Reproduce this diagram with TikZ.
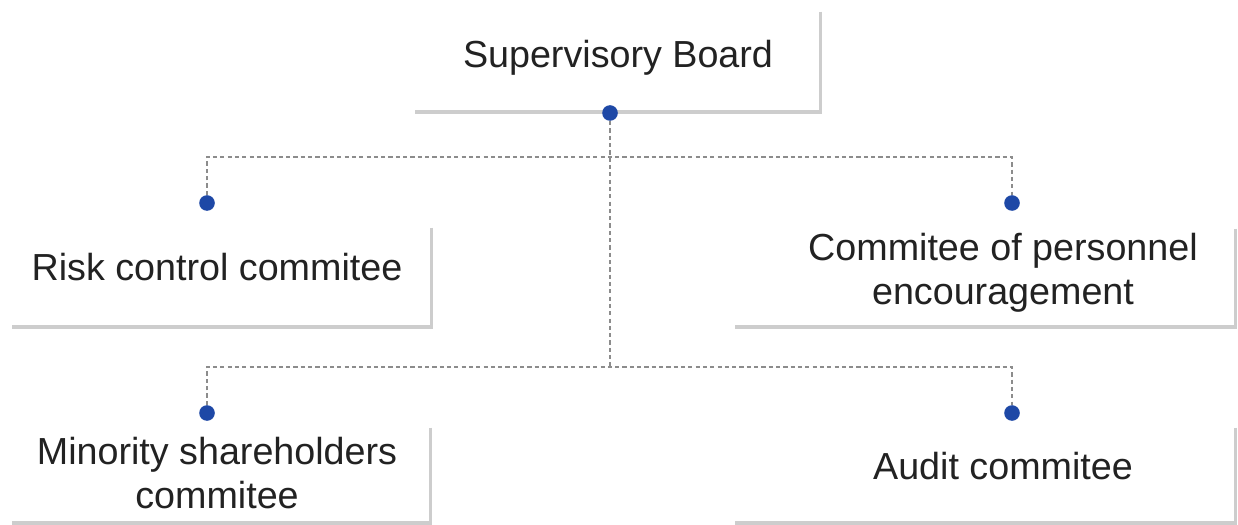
\documentclass[tikz,border=0pt]{standalone}
\usepackage{fontspec}
\setmainfont{Liberation Sans}
\usetikzlibrary{positioning}

\definecolor{dotblue}{HTML}{1E48A6}
\definecolor{shadegray}{HTML}{CDCDCD}
\definecolor{linkgray}{HTML}{8C8C8C}
\definecolor{inkgray}{HTML}{222222}

\begin{document}
\begin{tikzpicture}[x=0.025cm, y=-0.025cm,
    card/.style={rectangle, fill=white, inner sep=0pt},
    cardtext/.style={align=center, text=inkgray, inner sep=0pt,
      font=\fontsize{26.8}{31}\selectfont},
    shadow/.style={shadegray, line width=2.6pt},
    joint/.style={circle, fill=dotblue, inner sep=0pt, minimum size=0.39cm},
    link/.style={linkgray, line width=1.2pt, dash pattern=on 3pt off 2.2pt}]
  \useasboundingbox (0,0) rectangle (1238,525);

  % boxes
  \node[card, minimum width=10.125cm, minimum height=2.5cm]   (sb) at (617.5,62) {};
  \node[card, minimum width=10.475cm, minimum height=2.475cm] (rc) at (221.5,277.5) {};
  \node[card, minimum width=12.5cm,   minimum height=2.45cm]  (pc) at (985,278) {};
  \node[card, minimum width=10.45cm,  minimum height=2.375cm] (mc) at (221,475.5) {};
  \node[card, minimum width=12.5cm,   minimum height=2.375cm] (ac) at (985,475.5) {};
  \foreach \b in {sb,rc,pc,mc,ac}
    \draw[shadow] (\b.north east) -- (\b.south east) -- (\b.south west);

  % labels
  \node[cardtext] (sbt) at (618,58)  {Supervisory Board};
  \node[cardtext] (rct) at (217,267) {Risk control commitee};
  \node[cardtext] (pct) at (1003,273) {Commitee of personnel\\encouragement};
  \node[cardtext] (mct) at (217,473) {Minority shareholders\\commitee};
  \node[cardtext] (act) at (1003,466) {Audit commitee};

  % connection points
  \node[joint] (sbdot) at (610,113) {};
  \node[joint] (rcdot) at (207,203) {};
  \node[joint] (pcdot) at (1012,203) {};
  \node[joint] (mcdot) at (207,413) {};
  \node[joint] (acdot) at (1012,413) {};
  \coordinate (busa) at (610,157);
  \coordinate (busb) at (610,367);

  \draw[link] (sbdot.south) -- (busb);
  \draw[link] (rcdot.north) |- (busa) -| (pcdot.north);
  \draw[link] (mcdot.north) |- (busb) -| (acdot.north);
\end{tikzpicture}
\end{document}
